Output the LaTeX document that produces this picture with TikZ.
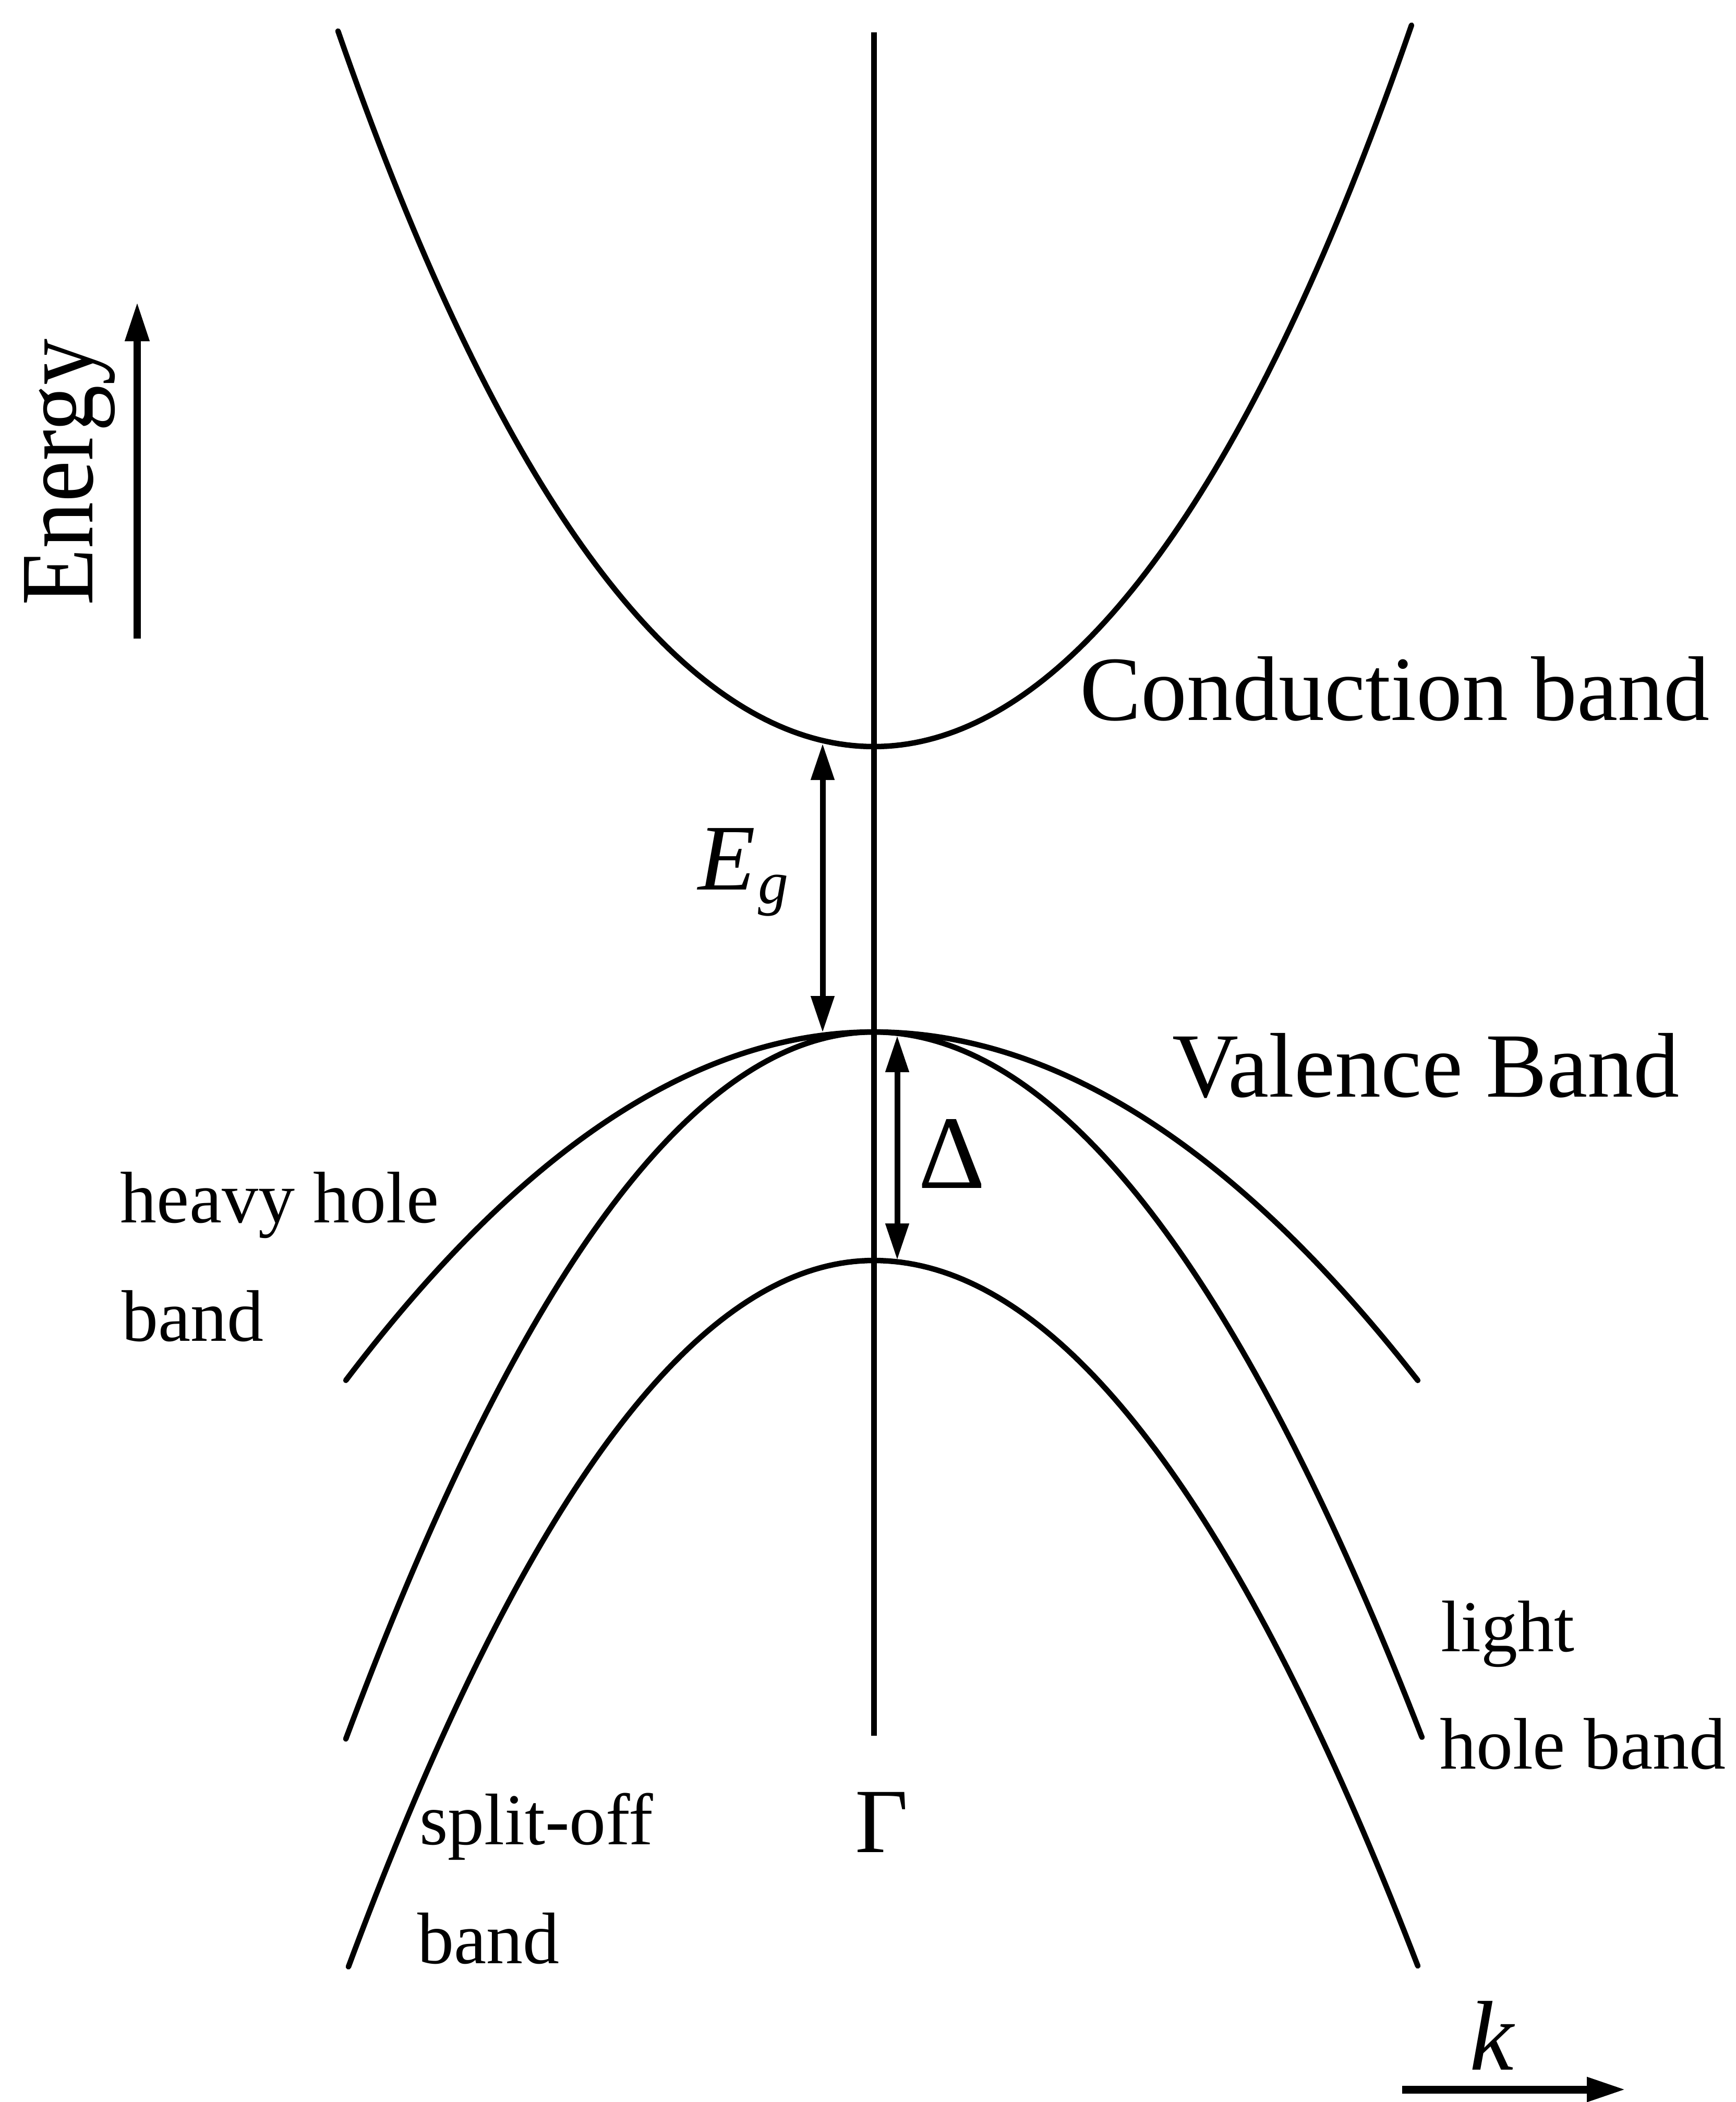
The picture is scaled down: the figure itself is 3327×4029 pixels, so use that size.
\documentclass[tikz,border=0pt]{standalone}
\usepackage{fontspec}
\usepackage{graphicx}
\setmainfont{Liberation Serif}
\usetikzlibrary{arrows.meta}
\begin{document}
\begin{tikzpicture}[x=0.1pt,y=-0.1pt,
  band/.style={line width=1.05pt, line join=round, line cap=round},
  dimarrow/.style={line width=1.1pt, {Triangle[length=7pt,width=4.3pt]}-{Triangle[length=7pt,width=4.3pt]}},
  axisarrow/.style={line width=1.35pt, -{Triangle[length=7.5pt,width=4.4pt]}},
  lbl/.style={inner sep=0pt, anchor=base west},
  biglbl/.style={lbl, font=\fontsize{17.6}{20}\selectfont},
  smalllbl/.style={lbl, font=\fontsize{14}{16}\selectfont}]
\useasboundingbox (0,0) rectangle (3327,4029);

% Gamma line
\coordinate (gtop) at (1675,62);
\coordinate (gbot) at (1675,3327);
\draw[line width=1.1pt] (gtop) -- (gbot);

% conduction band
\draw[band] plot[domain=-10.27:0, samples=80] ({1675+100*\x},{1431-12*\x*\x-0.0095*\x*\x*\x*\x})
  -- plot[domain=0:10.31, samples=80] ({1675+100*\x},{1431-12*\x*\x-0.0095*\x*\x*\x*\x});
% heavy hole
\draw[band] plot[domain=-10.12:0, samples=80] ({1675+100*\x},{1978+6.52*\x*\x})
  -- plot[domain=0:10.43, samples=80] ({1675+100*\x},{1978+6.14*\x*\x});
% light hole
\draw[band] plot[domain=-10.12:0, samples=80] ({1675+100*\x},{1978+13.23*\x*\x})
  -- plot[domain=0:10.51, samples=80] ({1675+100*\x},{1978+12.24*\x*\x});
% split-off
\draw[band] plot[domain=-10.07:0, samples=80] ({1675+100*\x},{2416+13.35*\x*\x})
  -- plot[domain=0:10.43, samples=80] ({1675+100*\x},{2416+12.43*\x*\x});

% Eg and Delta arrows
\coordinate (egtop) at (1577,1425);
\coordinate (egbot) at (1577,1979);
\draw[dimarrow] (egtop) -- (egbot);
\coordinate (dtop) at (1720,1985);
\coordinate (dbot) at (1720,2415);
\draw[dimarrow] (dtop) -- (dbot);

% axis arrows
\coordinate (etail) at (263,1224);
\coordinate (ehead) at (263,579);
\draw[axisarrow] (etail) -- (ehead);
\coordinate (ktail) at (2688,4005);
\coordinate (khead) at (3117,4005);
\draw[axisarrow, line width=1.5pt] (ktail) -- (khead);

% labels
\node[inner sep=0pt, anchor=base, rotate=90, font=\fontsize{20}{22}\selectfont] (elab) at (177,905) {\scalebox{0.89}[1]{Energy}};
\node[inner sep=0pt, anchor=base, font=\fontsize{19}{20}\selectfont\itshape] (klab) at (2860,3967) {k};
\node[biglbl] (cb) at (2068,1380) {Conduction band};
\node[biglbl] (vb) at (2245,2102) {Valence Band};
\node[smalllbl] (hh1) at (229,2343) {heavy hole};
\node[smalllbl] (hh2) at (231,2570) {band};
\node[smalllbl] (lh1) at (2760,3165) {light};
\node[smalllbl] (lh2) at (2758,3390) {hole band};
\node[smalllbl] (so1) at (802,3535) {split-off};
\node[smalllbl] (so2) at (798,3763) {band};
\node[biglbl] (gam) at (1637,3550) {Γ};
\node[lbl, font=\fontsize{20}{22}\selectfont] (delta) at (1758,2277) {Δ};
\node[lbl, font=\fontsize{18}{20}\selectfont] (eg) at (1336,1705) {\textit{E}\kern0.6pt\raisebox{-2.6pt}{\fontsize{11.6}{12}\selectfont\textit{g}}};
\end{tikzpicture}
\end{document}
